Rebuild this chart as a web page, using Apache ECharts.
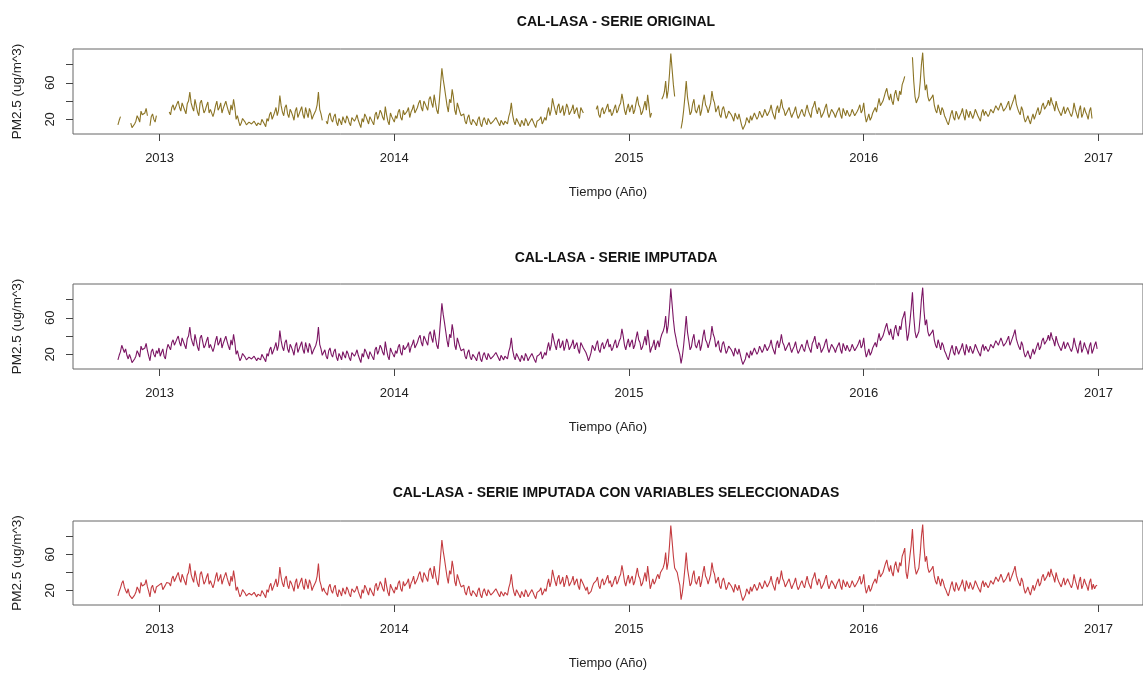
<!DOCTYPE html>
<html><head><meta charset="utf-8">
<script src="https://cdn.jsdelivr.net/npm/echarts@6/dist/echarts.min.js"></script>
<style>html,body{margin:0;padding:0;background:#fff;}#c{width:1143px;height:675px;}</style>
</head><body><div id="c"></div>
<script>
const startDate = [2012, 9, 28];
const stepDays = 2;
const pm2012 = [14,19,23,30,28,22,26,19,15,20,16,11,12,15,18,24,21,17,29,25,23,27,32,24,18,13,23,26,20,17,24,21,27];
const pm2013 = [18,22,26,18,15,25,31,28,25,33,36,30,28,37,40,33,29,38,34,30,26,37,40,50,38,33,29,42,35,28,24,38,41,34,27,30,35,39,27,31,30,23,28,35,40,30,33,38,27,32,36,40,34,29,25,36,30,42,33,20,
  24,18,13,16,21,19,17,14,12,17,19,15,14,18,20,13,16,17,14,20,18,15,12,21,18,25,28,20,24,28,33,24,30,46,35,28,24,33,36,26,22,31,28,24,19,29,33,22,26,30,34,25,21,33,27,22,32,28,20,24,26,30,36,50,31,26,
  19,22,25,18,15,24,27,20,17,23,26,17,13,21,18,14,23,19,16,24,21,16,13,22,24,18,21,25,19,15,11,21,17,26,23,19,15,23,21,17,14,25,28,20,24,30,27,22,19,34,25,18,14,27,23,20];
const pm2014 = [17,24,21,28,31,22,19,30,25,26,29,33,22,28,31,36,27,30,33,38,41,33,29,40,37,35,30,42,45,38,33,47,38,30,26,40,58,76,64,55,45,35,28,42,38,53,44,30,25,38,33,28,24,22,26,18,15,22,25,17,14,20,22,16,
  13,20,23,15,12,19,22,17,14,21,19,15,13,18,16,22,20,16,13,19,17,14,18,20,15,23,28,38,25,18,14,21,19,15,12,19,17,13,21,18,13,16,17,21,19,14,11,18,16,20,23,15,18,22,19,27,33,24,30,43,36,30,25,34,37,27,30,35,24,29,37,33,
  25,28,31,36,26,30,33,25,21,33,30,27,25,22,18,13,17,22,30,27,24,31,35,25,22,30,33,26,29,33,37,28,31,24,27,32,36,27,30,35,38,48,40,30,25,32,37];
const pm2015 = [28,33,
  36,26,30,38,45,36,33,25,28,34,40,30,47,35,22,27,30,36,25,31,35,28,37,42,45,50,62,43,52,70,92,75,58,45,38,30,28,20,10,18,30,45,62,44,35,25,28,37,42,30,27,32,36,24,30,40,47,36,33,27,28,38,51,42,38,28,30,35,25,22,31,34,
  28,21,24,29,30,25,22,18,27,23,20,26,24,14,9,12,15,22,19,16,24,19,21,27,26,20,23,29,28,22,25,31,30,24,26,30,36,28,24,20,31,35,27,33,42,33,30,24,25,30,33,27,22,26,29,34,26,21,24,28,31,26,23,30,36,29,27,22,32,35,40,31,26,33,30,22,23,28,33,37,27,22,24,31,30,26,22,27,28,33,25,21,32,28,24,30,29,23,26,31,30,24,25,29,32,36,27,30];
const pm2016 = [38,25,
  17,21,26,19,22,27,30,33,28,36,43,35,36,40,45,50,54,46,41,48,40,36,47,52,44,40,51,47,58,62,
  67,50,35,42,55,70,88,62,45,38,37,45,60,80,93,68,52,58,45,40,38,44,47,36,30,27,36,31,25,33,
  30,24,21,17,14,20,26,30,22,19,29,25,20,24,27,32,24,19,31,26,22,29,28,21,25,31,30,24,22,18,
  27,31,24,29,30,23,26,31,33,27,29,35,36,30,31,38,34,29,28,33,35,40,30,34,38,42,47,37,32,28,
  25,34,30,22,17,20,24,19,15,21,26,20,22,29,33,25,28,35,38,31,32,36,41,35,44,38,35,29,40,34,
  30,27,24,29,34,26,27,33,31,26,23,28,38,31,26,21,30,35,22,26,33,28,25,20,29,33,21,25,30,34,26];
// sample ranges [from, to] missing in the original series
const gapRanges = [[3,9],[24,24],[31,39],[160,161],[363,371],[416,422],[434,437],[613,617],[759,761]];
// values imputed with the selected variables inside those ranges
const fillSeleccionadas = [28,31,24,20,17,22,15, 19, 22,26,24,28,21,19,26,29,31, 23,19, 25,20,24,16,14,19,24,28,30,
  33,27,30,35,38,33,40, 45,40,32,26, 40,33,45,58,70, 27,22,25];

const titles = ['CAL-LASA - SERIE ORIGINAL','CAL-LASA - SERIE IMPUTADA','CAL-LASA - SERIE IMPUTADA CON VARIABLES SELECCIONADAS'];
const yearTicks = [2013,2014,2015,2016,2017];
const yTicks = [20,40,60,80];
const yLabels = [20,60];
const xName = 'Tiempo (Año)';
const yName = 'PM2.5 (ug/m^3)';
const colors = ['#8b7425','#7b1563','#c43c40'];

const imputada = [].concat(pm2012, pm2013, pm2014, pm2015, pm2016);
const gapIndex = [];
gapRanges.forEach(r => { for (let j = r[0]; j <= r[1]; j++) gapIndex.push(j); });
const original = imputada.map((v,i)=> gapIndex.includes(i) ? null : v);
const seleccion = imputada.map((v,i)=> { const k = gapIndex.indexOf(i); return k>=0 ? fillSeleccionadas[k] : v; });

function decYear(i){
  const t = Date.UTC(startDate[0], startDate[1], startDate[2]) + i*stepDays*86400000;
  const y = new Date(t).getUTCFullYear();
  const s = Date.UTC(y,0,1), e = Date.UTC(y+1,0,1);
  return y + (t-s)/(e-s);
}
const seriesData = [original, imputada, seleccion].map(arr => arr.map((v,i)=>[decYear(i), v]));

const gridTops = [49, 284, 521];
const gridHeights = [85, 85, 84];
const titleTops = [10, 246, 481];
const font = 'Liberation Sans, Arial, sans-serif';
const axisColor = '#444';

const chart = echarts.init(document.getElementById('c'), null, {renderer:'canvas'});
chart.setOption({
  animation: false,
  backgroundColor: '#fff',
  title: titles.map((t,k)=>({text:t, left:611, top:titleTops[k], textAlign:'center',
    textStyle:{fontFamily:font, fontWeight:'bold', fontSize:14, color:'#111'}})),
  grid: gridTops.map((top,k)=>({left:73, top:top, width:1082, height:gridHeights[k], show:true,
    borderColor:'#666', borderWidth:1, backgroundColor:'transparent'})),
  xAxis: [0,1,2].map(k=>({type:'value', gridIndex:k, min:2012.631, max:2017.19,
    axisLine:{show:false}, splitLine:{show:false},
    axisTick:{show:true, length:7, customValues:yearTicks, lineStyle:{color:axisColor}},
    axisLabel:{customValues:yearTicks, margin:18, fontSize:13, color:'#222', fontFamily:font,
      formatter:v=>String(Math.round(v))},
    name:xName, nameLocation:'middle', nameGap:52,
    nameTextStyle:{fontSize:13, color:'#222', fontFamily:font}})),
  yAxis: [0,1,2].map(k=>({type:'value', gridIndex:k, min:4, max:97,
    axisLine:{show:false}, splitLine:{show:false},
    axisTick:{show:true, length:7, customValues:yTicks, lineStyle:{color:axisColor}},
    axisLabel:{customValues:yLabels, rotate:90, margin:16, fontSize:13, color:'#222', fontFamily:font},
    name:yName, nameLocation:'middle', nameGap:49,
    nameTextStyle:{fontSize:13.5, color:'#222', fontFamily:font}})),
  series: seriesData.map((d,k)=>({type:'line', xAxisIndex:k, yAxisIndex:k, data:d,
    showSymbol:false, symbol:'none', connectNulls:false,
    lineStyle:{color:colors[k], width:1.1}, itemStyle:{color:colors[k]}}))
});
</script></body></html>
